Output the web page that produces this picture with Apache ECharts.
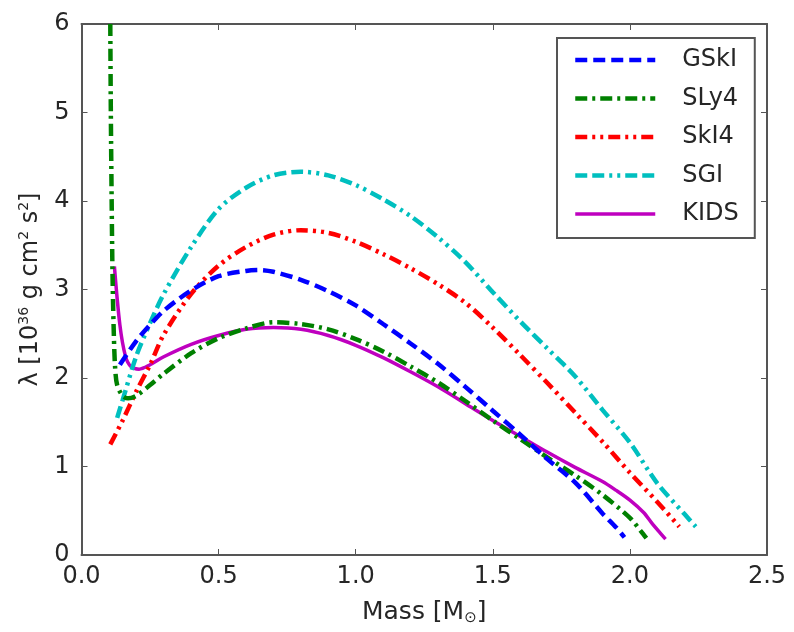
<!DOCTYPE html>
<html>
<head>
<meta charset="utf-8">
<script src="https://cdn.jsdelivr.net/npm/echarts@6/dist/echarts.min.js"></script>
<style>
  html, body { margin: 0; padding: 0; background: #fff; }
  #chart { width: 794px; height: 632px; }
</style>
</head>
<body>
<div id="chart"></div>
<script>
// λ versus stellar mass for several Skyrme-type equations of state
const seriesNames = ['GSkI', 'SLy4', 'SkI4', 'SGI', 'KIDS'];

const massGSkI = [0.14, 0.20, 0.25, 0.30, 0.40, 0.50, 0.60, 0.65, 0.70, 0.80, 0.90, 1.00, 1.10, 1.20, 1.30, 1.40, 1.50, 1.60, 1.70, 1.80, 1.90, 1.95, 1.98];
const lambdaGSkI = [2.15, 2.42, 2.60, 2.76, 2.99, 3.15, 3.21, 3.22, 3.20, 3.11, 2.98, 2.82, 2.61, 2.39, 2.16, 1.90, 1.63, 1.36, 1.08, 0.82, 0.47, 0.31, 0.20];

const massSLy4 = [0.105, 0.107, 0.110, 0.113, 0.117, 0.122, 0.13, 0.15, 0.17, 0.20, 0.25, 0.30, 0.40, 0.50, 0.60, 0.70, 0.80, 0.90, 1.00, 1.10, 1.20, 1.30, 1.40, 1.50, 1.60, 1.70, 1.80, 1.90, 2.00, 2.04, 2.06];
const lambdaSLy4 = [6.0, 5.0, 4.0, 3.2, 2.6, 2.15, 1.92, 1.80, 1.77, 1.80, 1.92, 2.05, 2.28, 2.45, 2.56, 2.63, 2.61, 2.55, 2.44, 2.30, 2.13, 1.95, 1.74, 1.52, 1.31, 1.10, 0.90, 0.68, 0.42, 0.27, 0.19];

const massSkI4 = [0.105, 0.15, 0.20, 0.25, 0.30, 0.40, 0.50, 0.60, 0.70, 0.80, 0.90, 1.00, 1.10, 1.20, 1.30, 1.40, 1.50, 1.60, 1.70, 1.80, 1.90, 2.00, 2.10, 2.18];
const lambdaSkI4 = [1.25, 1.52, 1.85, 2.15, 2.49, 2.95, 3.27, 3.48, 3.62, 3.67, 3.64, 3.54, 3.40, 3.24, 3.06, 2.85, 2.57, 2.26, 1.94, 1.61, 1.28, 0.93, 0.60, 0.32];

const massSGI = [0.13, 0.15, 0.20, 0.25, 0.30, 0.40, 0.50, 0.60, 0.70, 0.80, 0.90, 1.00, 1.10, 1.20, 1.30, 1.40, 1.50, 1.60, 1.70, 1.80, 1.90, 2.00, 2.10, 2.20, 2.24];
const lambdaSGI = [1.55, 1.75, 2.25, 2.62, 2.95, 3.48, 3.91, 4.15, 4.29, 4.33, 4.29, 4.18, 4.02, 3.83, 3.59, 3.31, 2.97, 2.64, 2.33, 2.02, 1.64, 1.27, 0.81, 0.46, 0.32];

const massKIDS = [0.12, 0.14, 0.16, 0.18, 0.21, 0.25, 0.30, 0.40, 0.50, 0.60, 0.70, 0.80, 0.90, 1.00, 1.10, 1.20, 1.30, 1.40, 1.50, 1.60, 1.70, 1.80, 1.90, 1.95, 2.00, 2.05, 2.08, 2.11, 2.13];
const lambdaKIDS = [3.26, 2.60, 2.25, 2.13, 2.10, 2.15, 2.24, 2.38, 2.48, 2.55, 2.57, 2.55, 2.48, 2.37, 2.23, 2.07, 1.90, 1.71, 1.52, 1.34, 1.16, 0.99, 0.83, 0.73, 0.62, 0.48, 0.36, 0.25, 0.18];

const xTicks = [0.0, 0.5, 1.0, 1.5, 2.0, 2.5];
const yTicks = [0, 1, 2, 3, 4, 5, 6];

const colors = ['#0000ff', '#008000', '#ff0000', '#00bfbf', '#bf00bf'];
const dashes = [
  [12, 6],
  [12, 5, 3, 5],
  [12, 5, 3, 5, 3, 5],
  [12, 5, 12, 5, 3, 5, 3, 5],
  'solid'
];
const widths = [4.5, 4.5, 4.5, 4.5, 3.5];

const masses = [massGSkI, massSLy4, massSkI4, massSGI, massKIDS];
const lambdas = [lambdaGSkI, lambdaSLy4, lambdaSkI4, lambdaSGI, lambdaKIDS];

const textColor = '#262626';
const frameColor = '#555555';
const fontFamily = 'DejaVu Sans';

const series = seriesNames.map((name, i) => ({
  name: name,
  type: 'line',
  data: masses[i].map((m, k) => [m, lambdas[i][k]]),
  symbol: 'none',
  smooth: 0.3,
  clip: true,
  lineStyle: { color: colors[i], width: widths[i], type: dashes[i], cap: 'butt' },
  itemStyle: { color: colors[i] },
  z: 2 + (4 - i)
}));

// legend entries carry the same stroke as their curves
const legendItems = seriesNames.map((name, i) => ({
  name: name,
  lineStyle: { color: colors[i], width: widths[i], type: dashes[i], cap: 'butt' }
}));

const chart = echarts.init(document.getElementById('chart'), null, { renderer: 'canvas' });

const baseX = {
  type: 'value', min: 0, max: 2.5, interval: 0.5,
  axisLine: { show: true, onZero: false, lineStyle: { color: frameColor, width: 2 } },
  axisTick: { show: true, inside: true, length: 6, lineStyle: { color: frameColor, width: 1 } },
  splitLine: { show: false }
};
const baseY = {
  type: 'value', min: 0, max: 6, interval: 1,
  axisLine: { show: true, onZero: false, lineStyle: { color: frameColor, width: 2 } },
  axisTick: { show: true, inside: true, length: 6, lineStyle: { color: frameColor, width: 1 } },
  splitLine: { show: false }
};

const supStyle = { fontSize: 14, color: textColor, fontFamily: fontFamily, verticalAlign: 'top', padding: [0, 0, 12, 0] };

chart.setOption({
  animation: false,
  backgroundColor: '#ffffff',
  grid: { left: 81.5, right: 27, top: 24, bottom: 77, containLabel: false },
  xAxis: [
    Object.assign({}, baseX, {
      position: 'bottom',
      axisLabel: {
        color: textColor, fontSize: 24, fontFamily: fontFamily, margin: 10,
        formatter: v => xTicks.includes(v) ? v.toFixed(1) : ''
      },
      name: 'Mass [M{sub|⊙}]',
      nameLocation: 'middle',
      nameGap: 44,
      nameTextStyle: {
        color: textColor, fontSize: 25, fontFamily: fontFamily,
        rich: { sub: { fontSize: 15, color: textColor, fontFamily: fontFamily, verticalAlign: 'bottom', padding: [12, 0, 0, 0] } }
      }
    }),
    Object.assign({}, baseX, { position: 'top', axisLabel: { show: false } })
  ],
  yAxis: [
    Object.assign({}, baseY, {
      position: 'left',
      axisLabel: {
        color: textColor, fontSize: 24, fontFamily: fontFamily, margin: 12,
        formatter: v => yTicks.includes(v) ? String(v) : ''
      },
      name: 'λ [10{sup|36} g cm{sup|2} s{sup|2}]',
      nameLocation: 'middle',
      nameRotate: 90,
      nameGap: 38,
      nameTextStyle: {
        color: textColor, fontSize: 24, fontFamily: fontFamily,
        rich: { sup: supStyle }
      }
    }),
    Object.assign({}, baseY, { position: 'right', axisLabel: { show: false } })
  ],
  legend: {
    data: legendItems,
    orient: 'vertical',
    left: 557,
    top: 38,
    padding: [10, 16, 12, 16],
    itemGap: 14.5,
    itemWidth: 80,
    itemHeight: 24,
    borderColor: frameColor,
    borderWidth: 2,
    borderRadius: 0,
    backgroundColor: '#ffffff',
    selectedMode: false,
    itemStyle: { opacity: 0, color: 'rgba(0,0,0,0)', borderWidth: 0 },
    textStyle: { color: textColor, fontSize: 24, fontFamily: fontFamily, padding: [0, 0, 0, 22] }
  },
  series: series
});
</script>
</body>
</html>
